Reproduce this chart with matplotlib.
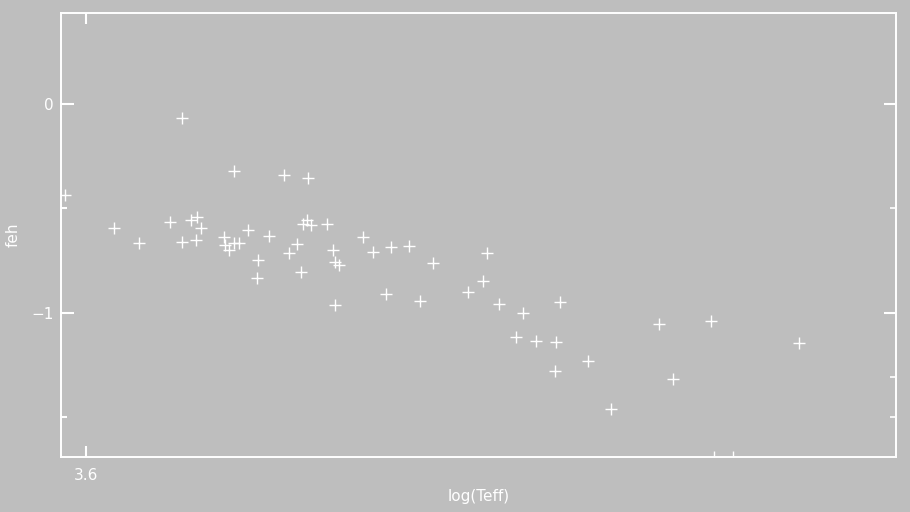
import matplotlib
matplotlib.use('Agg')
import matplotlib.pyplot as plt
from matplotlib.ticker import NullFormatter

# log(Teff) and [Fe/H] values
log_teff = [3.6148, 3.6229, 3.6306, 3.6343, 3.5968, 3.6043, 3.6082, 3.6130,
            3.6162, 3.6172, 3.6178, 3.6148, 3.6170, 3.6213, 3.6215, 3.6221,
            3.6229, 3.6237, 3.6250, 3.6283, 3.6266, 3.6264, 3.6314, 3.6326,
            3.6332, 3.6342, 3.6335, 3.6348, 3.6373, 3.6382, 3.6385, 3.6391,
            3.6385, 3.6428, 3.6444, 3.6471, 3.6499, 3.6536, 3.6464, 3.6516,
            3.6620, 3.6614, 3.6590, 3.6638, 3.6675, 3.6733, 3.6665, 3.6696,
            3.6726, 3.6725, 3.6776, 3.6811, 3.6886, 3.6966, 3.6907, 3.7102]
feh = [-0.067, -0.321, -0.340, -0.354, -0.435, -0.593, -0.665, -0.565,
       -0.555, -0.541, -0.593, -0.660, -0.651, -0.636, -0.675, -0.699,
       -0.665, -0.665, -0.603, -0.632, -0.746, -0.833, -0.713, -0.670,
       -0.804, -0.555, -0.574, -0.579, -0.574, -0.699, -0.756, -0.770,
       -0.962, -0.636, -0.708, -0.684, -0.679, -0.761, -0.909, -0.943,
       -0.713, -0.847, -0.900, -0.957, -1.000, -0.947, -1.115, -1.134,
       -1.139, -1.278, -1.230, -1.459, -1.053, -1.038, -1.316, -1.144]

bg = '#bebebe'
fg = 'white'

fig = plt.figure(figsize=(9.1, 5.12), dpi=100, facecolor=bg)
ax = fig.add_axes([61 / 910, 55 / 512, 835 / 910, 444 / 512], facecolor=bg)

ax.plot(log_teff, feh, linestyle='none', marker='+', markersize=9,
        markeredgewidth=1.0, color=fg)

ax.set_xlim(3.59614, 3.72519)
ax.set_ylim(-1.689, 0.435)

for s in ax.spines.values():
    s.set_color(fg)
    s.set_linewidth(1.4)

# x ticks: 3.6 labelled, two small unlabelled ticks further right
ax.set_xticks([3.6])
ax.set_xticklabels(['3.6'])
ax.set_xticks([3.697, 3.70], minor=True)
ax.xaxis.set_minor_formatter(NullFormatter())
ax.tick_params(axis='x', which='major', direction='in', length=8, width=1.5,
               top=True, bottom=True, colors=fg, labelsize=11, pad=8)
ax.tick_params(axis='x', which='minor', direction='in', length=4, width=1.0,
               top=False, bottom=True, colors=fg)

# y ticks on the left
ax.set_yticks([0, -1])
ax.set_yticks([-0.5, -1.5], minor=True)
ax.yaxis.set_minor_formatter(NullFormatter())
ax.tick_params(axis='y', which='major', direction='in', length=9.5, width=1.5,
               left=True, right=False, colors=fg, labelsize=11, pad=5)
ax.tick_params(axis='y', which='minor', direction='in', length=4.5, width=1.5,
               left=True, right=False, colors=fg)

# right side has its own tick set
sec = ax.secondary_yaxis('right')
sec.set_yticks([0, -1])
sec.set_yticks([-0.5, -1.306, -1.5], minor=True)
sec.yaxis.set_major_formatter(NullFormatter())
sec.yaxis.set_minor_formatter(NullFormatter())
sec.spines['right'].set_color(fg)
sec.spines['right'].set_linewidth(1.4)
sec.tick_params(axis='y', which='major', direction='in', length=8.5, width=1.5, colors=fg)
sec.tick_params(axis='y', which='minor', direction='in', length=4, width=1.2, colors=fg)

ax.set_xlabel('log(Teff)', color=fg, fontsize=11, labelpad=4)
ax.set_ylabel('feh', color=fg, fontsize=11, labelpad=8)

fig.savefig('out.png', dpi=100, facecolor=bg)
